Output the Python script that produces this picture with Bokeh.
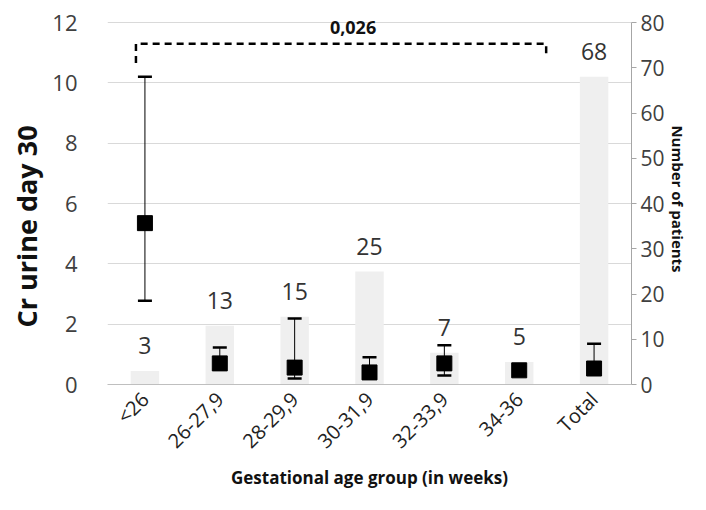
from bokeh.plotting import figure
from bokeh.models import Range1d, LinearAxis, FixedTicker, Whisker, TeeHead, ColumnDataSource, Title
from bokeh.core.properties import value
from bokeh.embed import file_html
from bokeh.resources import INLINE

# ---- data ----
categories = ["<26", "26-27,9", "28-29,9", "30-31,9", "32-33,9", "34-36", "Total"]
patients = [3, 13, 15, 25, 7, 5, 68]
cr_median = [5.35, 0.70, 0.56, 0.40, 0.70, 0.47, 0.53]
cr_upper = [10.2, 1.23, 2.19, 0.90, 1.30, 0.58, 1.35]
cr_lower = [2.78, 0.50, 0.20, 0.30, 0.30, 0.40, 0.38]
p_value_text = "0,026"
left_ticks = [0, 2, 4, 6, 8, 10, 12]
right_ticks = [0, 10, 20, 30, 40, 50, 60, 70, 80]

FONT = "Open Sans"
xpos = [i + 0.5 for i in range(len(categories))]

Y_TOP = 12.3            # a little head-room above the 12 grid line for the p-value text
N_TOP = 80 * Y_TOP / 12  # keep the right scale aligned with the left one

p = figure(width=690, height=494, x_range=Range1d(0, len(categories)), y_range=Range1d(0, Y_TOP),
           output_backend="svg", toolbar_location=None,
           min_border_left=106, min_border_right=58, min_border_top=13, min_border_bottom=110)
p.outline_line_color = None
p.background_fill_color = "white"
p.border_fill_color = "white"
p.xgrid.visible = False
p.ygrid.grid_line_color = "#d9d9d9"
p.ygrid.grid_line_width = 1

# left axis
ya = p.yaxis[0]
ya.ticker = FixedTicker(ticks=left_ticks)
ya.axis_line_color = None
ya.major_tick_line_color = None
ya.minor_tick_line_color = None
ya.major_label_standoff = 24
ya.major_label_text_font = FONT
ya.major_label_text_font_size = "22px"
ya.major_label_text_color = "#404040"

# left title (as a side title so it can sit a little below centre, as in the original)
p.add_layout(Title(text="Cr urine day 30", align="left", offset=57,
                   text_font=FONT, text_font_style="bold", text_font_size="27px",
                   text_color="#111111"), "left")

# bottom axis
xa = p.xaxis[0]
xa.ticker = FixedTicker(ticks=xpos)
xa.major_label_overrides = {x: c for x, c in zip(xpos, categories)}
xa.major_label_orientation = 0.785398
xa.axis_line_color = "#bfbfbf"
xa.major_tick_line_color = None
xa.minor_tick_line_color = None
xa.major_label_text_font = FONT
xa.major_label_text_font_size = "20px"
xa.major_label_text_color = "#222222"
xa.major_label_standoff = 5
xa.axis_label = "Gestational age group (in weeks)"
xa.axis_label_text_font = FONT
xa.axis_label_text_font_style = "bold"
xa.axis_label_text_font_size = "17px"
xa.axis_label_text_color = "#111111"
xa.axis_label_standoff = 0

# right axis
p.extra_y_ranges = {"n": Range1d(0, N_TOP)}
ra = LinearAxis(y_range_name="n", ticker=FixedTicker(ticks=right_ticks), bounds=(0, 80))
ra.axis_line_color = "#a6a6a6"
ra.major_tick_line_color = "#a6a6a6"
ra.major_tick_out = 5
ra.major_tick_in = 0
ra.minor_tick_line_color = None
ra.major_label_standoff = 4
ra.major_label_text_font = FONT
ra.major_label_text_font_size = "21px"
ra.major_label_text_color = "#404040"
ra.axis_label = "Number of patients"
ra.axis_label_text_font = FONT
ra.axis_label_text_font_style = "bold"
ra.axis_label_text_font_size = "15px"
ra.axis_label_text_color = "#111111"
ra.axis_label_standoff = 0
p.add_layout(ra, "right")

# bars (number of patients)
bars = ColumnDataSource(dict(x=xpos, n=patients, lab=[str(v) for v in patients]))
p.vbar(x="x", top="n", width=0.38, source=bars, y_range_name="n",
       fill_color="#efefef", line_color=None)
p.text(x="x", y="n", text="lab", source=bars, y_range_name="n",
       text_align="center", text_baseline="middle", y_offset=-25,
       text_font=value(FONT), text_font_size="23px", text_color="#333333")

# error bars + medians
src = ColumnDataSource(dict(x=xpos, med=cr_median, up=cr_upper, lo=cr_lower))
w = Whisker(base="x", upper="up", lower="lo", source=src, dimension="height",
            line_color="black", line_width=1,
            upper_head=TeeHead(size=14, line_width=2.5, line_color="black"),
            lower_head=TeeHead(size=14, line_width=2.5, line_color="black"),
            level="glyph")
p.add_layout(w)
p.scatter(x="x", y="med", source=src, marker="square", size=15,
          fill_color="black", line_color="black")

# significance bracket between first and sixth group
bx0 = xpos[0] - 0.12
bx1 = xpos[5] + 0.36
by = 11.3
p.line(x=[bx0, bx0, bx1, bx1], y=[10.66, by, by, 10.83], line_color="black",
       line_width=2.5, line_dash="7 5")
p.text(x=[(bx0 + bx1) / 2], y=[by], text=[p_value_text], text_align="center",
       text_baseline="middle", y_offset=-16, x_offset=12,
       text_font=value(FONT), text_font_style="bold", text_font_size="18px",
       text_color="#111111")

open("out.html", "w").write(file_html(p, INLINE))
